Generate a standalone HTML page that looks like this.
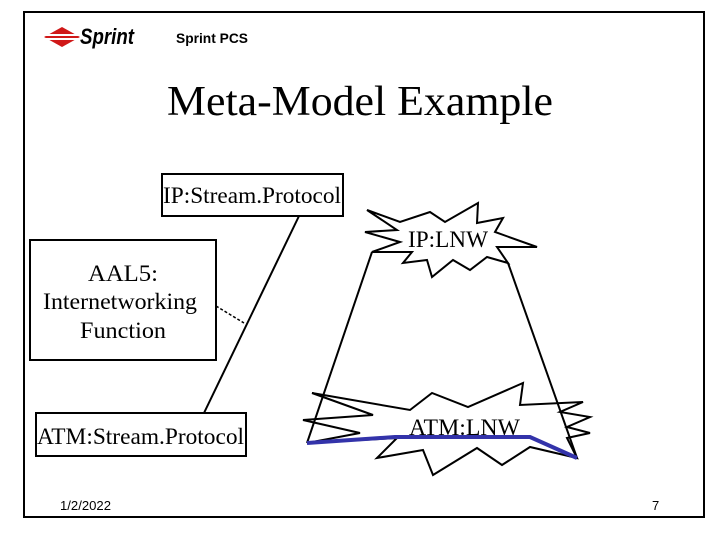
<!DOCTYPE html>
<html><head><style>
body{margin:0;background:#fff;width:720px;height:540px;overflow:hidden}
svg{display:block}
text{font-family:"Liberation Serif",serif;fill:#000}
</style></head><body>
<svg width="720" height="540" viewBox="0 0 720 540">
<rect x="24" y="12" width="680" height="505" fill="none" stroke="#000" stroke-width="2"/>
<!-- logos -->
<polygon points="44,37 62,27 80,37 62,47" fill="#d01818"/>
<rect x="40" y="34" width="44" height="2" fill="#fff"/>
<rect x="40" y="38" width="44" height="2" fill="#fff"/>
<text x="80" y="44" font-weight="bold" font-style="italic" font-size="22" textLength="54" lengthAdjust="spacingAndGlyphs" style="font-family:'Liberation Sans',sans-serif">Sprint</text>
<text x="176" y="43" font-weight="bold" font-size="14" textLength="72" lengthAdjust="spacingAndGlyphs" style="font-family:'Liberation Sans',sans-serif">Sprint PCS</text>
<text x="167" y="115" font-size="42" textLength="386" lengthAdjust="spacingAndGlyphs">Meta-Model Example</text>
<!-- boxes -->
<rect x="162" y="174" width="181" height="42" fill="none" stroke="#000" stroke-width="2"/>
<text x="163" y="203" font-size="23" textLength="178" lengthAdjust="spacingAndGlyphs">IP:Stream.Protocol</text>
<rect x="30" y="240" width="186" height="120" fill="none" stroke="#000" stroke-width="2"/>
<text x="88" y="281" font-size="23" textLength="70" lengthAdjust="spacingAndGlyphs">AAL5:</text>
<text x="43" y="309" font-size="23" textLength="154" lengthAdjust="spacingAndGlyphs">Internetworking</text>
<text x="80" y="338" font-size="23" textLength="86" lengthAdjust="spacingAndGlyphs">Function</text>
<rect x="36" y="413" width="210" height="43" fill="none" stroke="#000" stroke-width="2"/>
<text x="37" y="444" font-size="23" textLength="207" lengthAdjust="spacingAndGlyphs">ATM:Stream.Protocol</text>
<line x1="299" y1="216" x2="204" y2="413" stroke="#000" stroke-width="2"/>
<line x1="216" y1="306" x2="244" y2="323" stroke="#000" stroke-width="1.5" stroke-dasharray="3,2"/>
<!-- IP:LNW star -->
<polygon points="367,210 400,222 430,212 445,222 478,203 477,223 503,218 495,232 537,247 497,247 508,263 487,257 470,270 453,260 432,277 427,260 403,263 412,252 372,252 400,242 365,232 397,230" fill="#fff" stroke="#000" stroke-width="2"/>
<text x="408" y="247" font-size="23" textLength="80" lengthAdjust="spacingAndGlyphs">IP:LNW</text>
<!-- ATM:LNW star -->
<polygon points="312,393 410,410 432,393 468,407 523,383 520,405 583,402 560,412 590,417 567,427 590,433 567,438 577,458 530,447 502,465 477,448 433,475 423,450 377,458 397,438 307,443 360,433 303,420 373,415" fill="#fff" stroke="#000" stroke-width="2"/>
<text x="409" y="435" font-size="23" textLength="111" lengthAdjust="spacingAndGlyphs">ATM:LNW</text>
<!-- trapezoid sides -->
<line x1="372" y1="252" x2="307" y2="443" stroke="#000" stroke-width="2"/>
<line x1="508" y1="263" x2="577" y2="458" stroke="#000" stroke-width="2"/>
<polyline points="307,443 395,437 530,437 577,458" fill="none" stroke="#3333aa" stroke-width="4"/>
<text x="60" y="510" font-size="13" textLength="51" lengthAdjust="spacingAndGlyphs" style="font-family:'Liberation Sans',sans-serif">1/2/2022</text>
<text x="652" y="510" font-size="13" style="font-family:'Liberation Sans',sans-serif">7</text>
</svg>
</body></html>
